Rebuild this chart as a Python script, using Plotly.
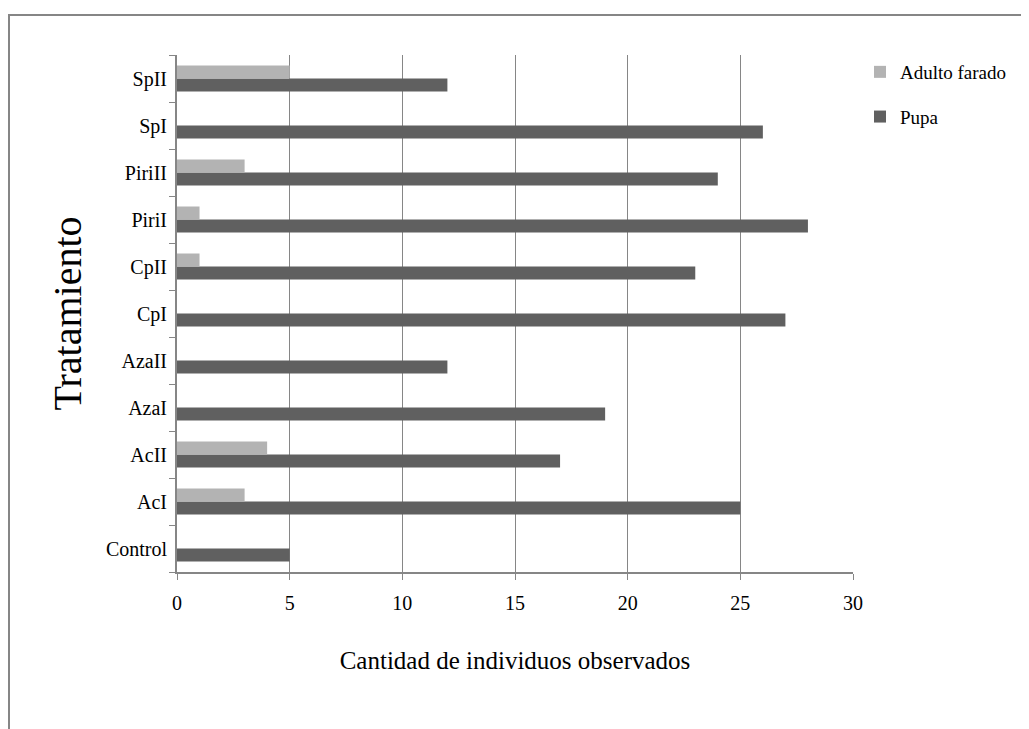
import plotly.graph_objects as go

tratamientos = ["Control", "AcI", "AcII", "AzaI", "AzaII", "CpI", "CpII",
                "PiriI", "PiriII", "SpI", "SpII"]
pupa = [5, 25, 17, 19, 12, 27, 23, 28, 24, 26, 12]
adulto_farado = [0, 3, 4, 0, 0, 0, 1, 1, 3, 0, 5]
x_ticks = [0, 5, 10, 15, 20, 25, 30]

font_name = "Liberation Serif"
grey_line = "#868686"

fig = go.Figure()
fig.add_trace(go.Bar(y=tratamientos, x=pupa, name="Pupa", orientation="h",
                     marker=dict(color="#606060", line=dict(width=0)),
                     legendgroup="b", legendrank=2))
fig.add_trace(go.Bar(y=tratamientos, x=adulto_farado, name="Adulto farado",
                     orientation="h",
                     marker=dict(color="#b3b3b3", line=dict(width=0)),
                     legendgroup="a", legendrank=1))

# the page puts the figure 8 px in from the window edge
off = 8
W, H = 1029 - off, 729 - off
# plot area in window pixels: left 177, right 853, top 55, bottom 572
L, R, T, B = 177 - off, 853 - off, 55 - off, 572 - off
pw, ph = R - L, B - T

fig.update_layout(
    width=W, height=H,
    margin=dict(l=L, r=W - R, t=T, b=H - B, autoexpand=False),
    paper_bgcolor="white", plot_bgcolor="white",
    barmode="group", bargap=0.447, bargroupgap=0,
    font=dict(family=font_name, color="black", size=20),
    showlegend=True,
    legend=dict(x=(860 - off - L) / pw, y=(B - (53 - off)) / ph,
                xanchor="left", yanchor="top",
                traceorder="grouped", tracegroupgap=17,
                font=dict(size=19, family=font_name), bgcolor="rgba(0,0,0,0)"),
    xaxis=dict(range=[0, 30], tickvals=x_ticks, showgrid=True, gridcolor=grey_line,
               gridwidth=1, zeroline=False, showline=True, linecolor=grey_line,
               linewidth=2, ticks="outside", ticklen=6, tickcolor=grey_line,
               tickfont=dict(size=20), ticklabelstandoff=6, fixedrange=True,
               title=dict(text="Cantidad de individuos observados",
                          font=dict(size=25), standoff=38)),
    yaxis=dict(type="category", categoryorder="array", categoryarray=tratamientos,
               showgrid=False, zeroline=False, showline=True, linecolor=grey_line,
               linewidth=2, ticks="outside", ticklen=6, tickcolor=grey_line,
               tickson="boundaries", tickfont=dict(size=20), ticklabelstandoff=4,
               fixedrange=True,
               title=dict(text="Tratamiento", font=dict(size=40), standoff=12)),
)

# outer chart frame (only top and left edges visible in the picture)
fig.add_shape(type="rect", xref="paper", yref="paper",
              x0=(9 - off - L) / pw, x1=(1040 - off - L) / pw,
              y0=(B - 740) / ph, y1=(B - (15 - off)) / ph,
              line=dict(color=grey_line, width=2), fillcolor="rgba(0,0,0,0)",
              layer="below")

fig.write_html("out.html")
